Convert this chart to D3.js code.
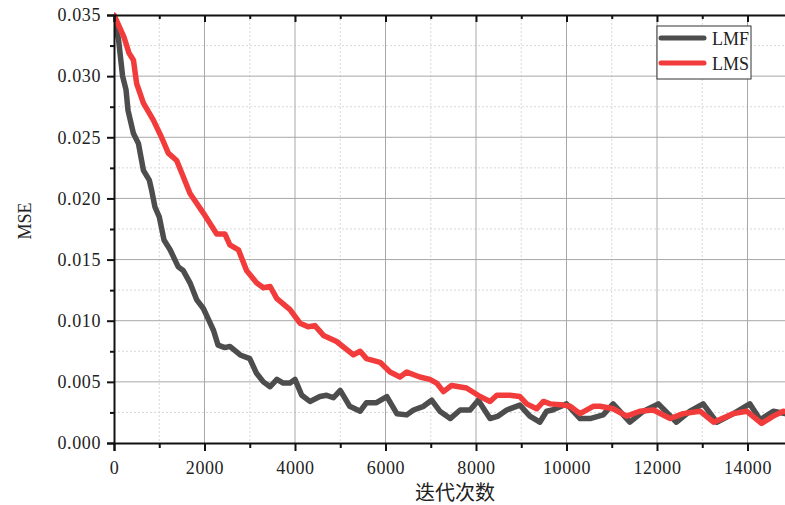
<!DOCTYPE html>
<html>
<head>
<meta charset="utf-8">
<script src="https://cdn.jsdelivr.net/npm/d3@7"></script>
<style>
  body { margin: 0; background: #fff; }
  svg { display: block; }
</style>
</head>
<body>
<svg></svg>
<script>
// iterations / MSE
let lmfIter = [0, 100, 190, 265, 310, 430, 540, 650, 780, 830, 905, 1000, 1105, 1240, 1420, 1530, 1680, 1830, 1975, 2100, 2200, 2300, 2450, 2560, 2790, 3000, 3150, 3300, 3450, 3600, 3740, 3890, 4000, 4150, 4330, 4550, 4700, 4850, 5000, 5210, 5440, 5580, 5800, 6030, 6250, 6470, 6620, 6840, 7020, 7200, 7430, 7650, 7870, 8050, 8310, 8490, 8680, 8970, 9190, 9410, 9560, 9690, 10000, 10300, 10520, 10810, 11030, 11400, 11700, 12030, 12430, 12730, 13020, 13320, 13690, 14050, 14280, 14570, 14830, 15000]
let lmfVal = [0.0346, 0.0330, 0.0300, 0.0289, 0.0272, 0.0253, 0.0245, 0.0223, 0.0215, 0.0207, 0.0193, 0.0185, 0.0166, 0.0158, 0.0144, 0.0141, 0.0131, 0.0117, 0.0110, 0.0100, 0.0092, 0.0080, 0.0078, 0.0079, 0.0072, 0.0069, 0.0057, 0.0050, 0.0046, 0.0052, 0.0049, 0.0049, 0.0052, 0.0039, 0.0034, 0.0038, 0.0039, 0.0037, 0.0043, 0.0030, 0.0026, 0.0033, 0.0033, 0.0038, 0.0024, 0.0023, 0.0027, 0.0030, 0.0035, 0.0026, 0.0020, 0.0027, 0.0027, 0.0035, 0.0020, 0.0022, 0.0027, 0.0031, 0.0022, 0.0017, 0.0026, 0.0027, 0.0032, 0.0020, 0.0020, 0.0023, 0.0032, 0.0017, 0.0026, 0.0032, 0.0017, 0.0026, 0.0032, 0.0017, 0.0024, 0.0032, 0.0019, 0.0026, 0.0024, 0.0026]

let lmsIter = [0, 220, 330, 430, 500, 650, 870, 1050, 1200, 1385, 1495, 1680, 1975, 2270, 2450, 2560, 2750, 2930, 3150, 3300, 3450, 3600, 3890, 4110, 4290, 4440, 4630, 4920, 5290, 5440, 5580, 5880, 6100, 6320, 6470, 6760, 6980, 7130, 7280, 7460, 7790, 8090, 8310, 8460, 8750, 8970, 9120, 9340, 9490, 9640, 9930, 10080, 10300, 10590, 10740, 11030, 11330, 11620, 11920, 12290, 12580, 12950, 13250, 13690, 13980, 14310, 14570, 14790, 15000]
let lmsVal = [0.0350, 0.0332, 0.0319, 0.0313, 0.0294, 0.0278, 0.0264, 0.0250, 0.0237, 0.0231, 0.0221, 0.0204, 0.0188, 0.0171, 0.0171, 0.0162, 0.0158, 0.0141, 0.0131, 0.0127, 0.0128, 0.0118, 0.0109, 0.0098, 0.0095, 0.0096, 0.0088, 0.0083, 0.0072, 0.0075, 0.0069, 0.0066, 0.0058, 0.0054, 0.0058, 0.0054, 0.0052, 0.0049, 0.0042, 0.0047, 0.0045, 0.0038, 0.0034, 0.0039, 0.0039, 0.0038, 0.0032, 0.0028, 0.0034, 0.0032, 0.0031, 0.0030, 0.0024, 0.0030, 0.0030, 0.0028, 0.0022, 0.0026, 0.0027, 0.0020, 0.0024, 0.0026, 0.0017, 0.0024, 0.0026, 0.0016, 0.0022, 0.0026, 0.0025]

let seriesNames = ['LMF', 'LMS']
let seriesColors = ['#4d4d4d', '#f23c3c']
let yTicks = [0, 0.005, 0.01, 0.015, 0.02, 0.025, 0.03, 0.035]
let xTicks = [0, 2000, 4000, 6000, 8000, 10000, 12000, 14000]

let width = 785
let height = 505
let plotLeft = 114
let plotTop = 15
let plotBottom = 443
let serif = '"Liberation Serif", "DejaVu Serif", serif'

let svg = d3.select('svg').attr('width', width).attr('height', height)

let x = d3.scaleLinear().domain([0, 15000]).range([plotLeft, plotLeft + 15000 * 0.04525])
let y = d3.scaleLinear().domain([0, 0.035]).range([plotBottom, plotTop])

// minor grid
let minorX = d3.range(1000, 15001, 2000)
let minorY = d3.range(0.0025, 0.035, 0.005)
svg.append('g').selectAll('line').data(minorX).enter().append('line')
  .attr('x1', d => x(d)).attr('x2', d => x(d)).attr('y1', plotTop).attr('y2', plotBottom)
  .attr('stroke', '#d8d8d8').attr('stroke-dasharray', '2,2')
svg.append('g').selectAll('line').data(minorY).enter().append('line')
  .attr('x1', plotLeft).attr('x2', width).attr('y1', d => y(d)).attr('y2', d => y(d))
  .attr('stroke', '#d8d8d8').attr('stroke-dasharray', '2,2')

// major grid
svg.append('g').selectAll('line').data(xTicks.slice(1)).enter().append('line')
  .attr('x1', d => x(d)).attr('x2', d => x(d)).attr('y1', plotTop).attr('y2', plotBottom)
  .attr('stroke', '#a8a8a8')
svg.append('g').selectAll('line').data(yTicks.slice(1, -1)).enter().append('line')
  .attr('x1', plotLeft).attr('x2', width).attr('y1', d => y(d)).attr('y2', d => y(d))
  .attr('stroke', '#a8a8a8')

// lines
let lineGen = (iters) => d3.line().x((d, i) => x(iters[i])).y(d => y(d))
svg.append('clipPath').attr('id', 'clip').append('rect')
  .attr('x', plotLeft).attr('y', plotTop - 4).attr('width', width - plotLeft).attr('height', plotBottom - plotTop + 4)

svg.append('path').datum(lmfVal)
  .attr('d', lineGen(lmfIter))
  .attr('fill', 'none').attr('stroke', seriesColors[0]).attr('stroke-width', 5.5)
  .attr('stroke-linejoin', 'round').attr('stroke-linecap', 'round')
  .attr('clip-path', 'url(#clip)')
svg.append('path').datum(lmsVal)
  .attr('d', lineGen(lmsIter))
  .attr('fill', 'none').attr('stroke', seriesColors[1]).attr('stroke-width', 5.5)
  .attr('stroke-linejoin', 'round').attr('stroke-linecap', 'round')
  .attr('clip-path', 'url(#clip)')

// axes
let yAxis = d3.axisLeft(y).tickValues(yTicks).tickSize(7).tickPadding(6)
  .tickFormat(d3.format('.3f'))
let gy = svg.append('g').attr('transform', 'translate(' + plotLeft + ',0)').call(yAxis)
gy.select('.domain').attr('stroke-width', 2).attr('stroke', '#111')
gy.selectAll('.tick line').attr('stroke-width', 2).attr('stroke', '#111')
svg.append('g').attr('transform', 'translate(' + plotLeft + ',0)')
  .call(d3.axisLeft(y).tickValues(minorY).tickSize(4).tickFormat(''))
  .call(g => g.select('.domain').remove())
  .selectAll('line').attr('stroke-width', 2).attr('stroke', '#111')

let xAxis = d3.axisBottom(x).tickValues(xTicks).tickSize(8).tickPadding(10)
  .tickFormat(d3.format('d'))
let gx = svg.append('g').attr('transform', 'translate(0,' + plotBottom + ')').call(xAxis)
gx.select('.domain').attr('stroke-width', 2).attr('stroke', '#111')
gx.selectAll('.tick line').attr('stroke-width', 2).attr('stroke', '#111')
svg.append('g').attr('transform', 'translate(0,' + plotBottom + ')')
  .call(d3.axisBottom(x).tickValues(minorX).tickSize(5).tickFormat(''))
  .call(g => g.select('.domain').remove())
  .selectAll('line').attr('stroke-width', 2).attr('stroke', '#111')

svg.selectAll('.tick text')
  .style('font-family', serif)
  .style('font-size', '18px')
  .style('letter-spacing', '0.6px')
  .style('fill', '#222')

// top axis, ticks inward
let gt = svg.append('g').attr('transform', 'translate(0,' + plotTop + ')')
  .call(d3.axisBottom(x).tickValues(xTicks).tickSize(7).tickFormat(''))
gt.select('.domain').attr('stroke-width', 2).attr('stroke', '#111')
gt.selectAll('line').attr('stroke-width', 2).attr('stroke', '#111')
svg.append('g').attr('transform', 'translate(0,' + plotTop + ')')
  .call(d3.axisBottom(x).tickValues(minorX).tickSize(4).tickFormat(''))
  .call(g => g.select('.domain').remove())
  .selectAll('line').attr('stroke-width', 2).attr('stroke', '#111')

// axis titles
svg.append('text')
  .attr('x', 455).attr('y', 500)
  .style('text-anchor', 'middle')
  .style('font-family', '"Noto Sans CJK SC", sans-serif')
  .style('font-size', '20px')
  .style('fill', '#222')
  .text('迭代次数')

svg.append('text')
  .attr('transform', 'translate(31,221) rotate(-90)')
  .style('text-anchor', 'middle')
  .style('font-family', serif)
  .style('font-size', '18px')
  .style('fill', '#222')
  .text('MSE')

// legend
let legend = svg.append('g')
legend.append('rect')
  .attr('x', 657).attr('y', 26).attr('width', 94).attr('height', 53)
  .attr('fill', '#fff').attr('stroke', '#333').attr('stroke-width', 1)
seriesNames.forEach((name, i) => {
  let ly = 38 + i * 25
  legend.append('line')
    .attr('x1', 661).attr('x2', 704).attr('y1', ly).attr('y2', ly)
    .attr('stroke', seriesColors[i]).attr('stroke-width', 5).attr('stroke-linecap', 'round')
  legend.append('text')
    .attr('x', 712).attr('y', ly + 7)
    .style('font-family', serif)
    .style('font-size', '18px')
    .style('fill', '#222')
    .text(name)
})
</script>
</body>
</html>
